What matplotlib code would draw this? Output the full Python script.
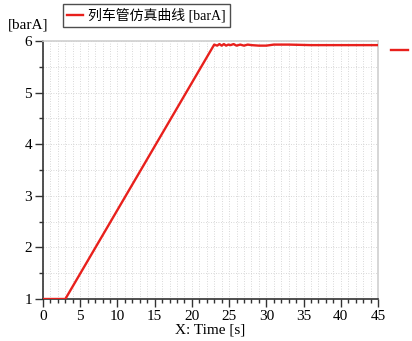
import matplotlib
matplotlib.use("Agg")
import matplotlib.pyplot as plt
from matplotlib.lines import Line2D
from matplotlib.ticker import MultipleLocator

plt.rcParams["font.family"] = ["Liberation Serif", "Noto Sans CJK SC", "DejaVu Sans"]
plt.rcParams["font.size"] = 10

# 列车管仿真曲线 (time s, pressure barA)
time_s = [0, 3, 23.0, 23.4, 23.7, 24.0, 24.3, 24.6, 24.9, 25.2, 25.6, 26.0, 26.5,
          27.0, 27.5, 28.0, 29.0, 30.0, 31.0, 33.0, 36.0, 40.0, 45.0]
pressure = [1.0, 1.0, 5.93, 5.91, 5.94, 5.91, 5.94, 5.91, 5.93, 5.92, 5.94, 5.91, 5.93,
            5.91, 5.93, 5.92, 5.91, 5.91, 5.93, 5.93, 5.92, 5.92, 5.92]
legend_label = "列车管仿真曲线 [barA]"

RED = "#e8201c"; DARK = "#333333"; LIGHT = "#cfcfcf"

fig = plt.figure(figsize=(4.12, 3.41), dpi=100)
ax = fig.add_axes([0.1044, 0.1232, 0.813, 0.7566])
ax.plot(time_s, pressure, color=RED, lw=1.7, label=legend_label, zorder=3)

ax.set_xlim(0, 45); ax.set_ylim(1, 6)
ax.xaxis.set_major_locator(MultipleLocator(5))
ax.xaxis.set_minor_locator(MultipleLocator(1))
ax.yaxis.set_major_locator(MultipleLocator(1))
ax.yaxis.set_minor_locator(MultipleLocator(0.5))
ax.grid(which="both", color="#cccccc", lw=0.6, ls=(0, (1, 2)))
ax.tick_params(which="major", direction="out", length=6, width=1.0, color=DARK,
               labelsize=11, pad=2)
ax.tick_params(which="minor", direction="out", length=3, width=1.0, color=DARK)
for s in ("left", "bottom"):
    ax.spines[s].set_color(DARK); ax.spines[s].set_linewidth(1.2)
for s in ("top", "right"):
    ax.spines[s].set_color(LIGHT); ax.spines[s].set_linewidth(1.2)

ax.set_xlabel("X: Time [s]", fontsize=11, labelpad=0)
fig.text(0.018, 0.928, "[barA]", fontsize=11, ha="left", va="center")

leg = ax.legend(loc="lower left", bbox_to_anchor=(0.06, 1.055), frameon=True, fancybox=False,
                fontsize=10, handlelength=1.1, handletextpad=0.4, borderpad=0.3,
                borderaxespad=0)
leg.get_frame().set_edgecolor("#222222"); leg.get_frame().set_linewidth(1.0)

# stray legend handle on the right margin
fig.add_artist(Line2D([391/412, 408/412], [1 - 50/341, 1 - 50/341], color=RED, lw=1.7))

fig.savefig("out.png", dpi=100)
